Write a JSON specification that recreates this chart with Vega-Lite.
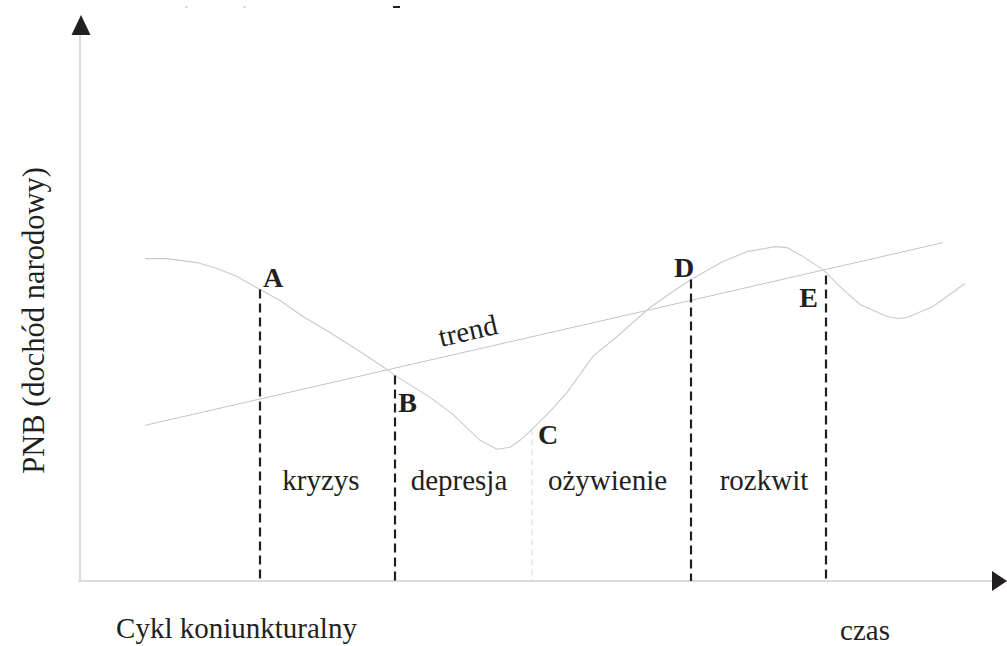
{
  "$schema": "https://vega.github.io/schema/vega-lite/v6.json",
  "width": 1007,
  "height": 646,
  "autosize": {"type": "fit", "contains": "padding"},
  "padding": 0,
  "background": "white",
  "config": {"view": {"stroke": null}},
  "datasets": {
    "curve": [
      {"t": 145, "v": 387}, {"t": 167, "v": 387}, {"t": 197, "v": 383}, {"t": 217, "v": 377},
      {"t": 237, "v": 369}, {"t": 260, "v": 356}, {"t": 280, "v": 345}, {"t": 303, "v": 329},
      {"t": 330, "v": 313}, {"t": 363, "v": 292}, {"t": 387, "v": 276}, {"t": 395, "v": 270},
      {"t": 430, "v": 248}, {"t": 453, "v": 231}, {"t": 480, "v": 205}, {"t": 497, "v": 196},
      {"t": 510, "v": 198}, {"t": 520, "v": 205}, {"t": 532, "v": 216}, {"t": 550, "v": 234},
      {"t": 567, "v": 253}, {"t": 593, "v": 289}, {"t": 617, "v": 309}, {"t": 650, "v": 338},
      {"t": 673, "v": 354}, {"t": 691, "v": 366}, {"t": 723, "v": 384}, {"t": 747, "v": 394},
      {"t": 775, "v": 399}, {"t": 787, "v": 398}, {"t": 803, "v": 389}, {"t": 823, "v": 376},
      {"t": 840, "v": 359}, {"t": 860, "v": 341}, {"t": 887, "v": 329}, {"t": 898, "v": 327},
      {"t": 907, "v": 328}, {"t": 933, "v": 339}, {"t": 965, "v": 362}
    ],
    "trend": [{"t": 145, "v": 220}, {"t": 943, "v": 403}],
    "phases": [
      {"t": 260, "v": 356, "v0": 64},
      {"t": 395, "v": 270, "v0": 64},
      {"t": 691, "v": 366, "v0": 64},
      {"t": 826, "v": 370, "v0": 64}
    ],
    "phaseC": [{"t": 532, "v": 216, "v0": 64}],
    "axes": [
      {"t": 80, "t2": 80, "v": 64, "v2": 611},
      {"t": 78, "t2": 993, "v": 64, "v2": 64}
    ],
    "arrowUp": [{"t": 81, "v": 621}],
    "arrowRight": [{"t": 999.5, "v": 64}],
    "specksLight": [
      {"t": 185, "t2": 188, "v": 639},
      {"t": 243, "t2": 246, "v": 639}
    ],
    "specksDark": [{"t": 393, "t2": 400, "v": 639}],
    "points": [
      {"t": 273, "v": 359, "label": "A"},
      {"t": 407.5, "v": 233, "label": "B"},
      {"t": 548, "v": 201, "label": "C"},
      {"t": 684, "v": 369, "label": "D"},
      {"t": 808.5, "v": 339, "label": "E"}
    ],
    "phaseNames": [
      {"t": 321, "v": 155, "label": "kryzys"},
      {"t": 459, "v": 155, "label": "depresja"},
      {"t": 607.5, "v": 155, "label": "ożywienie"},
      {"t": 764, "v": 155, "label": "rozkwit"},
      {"t": 236.5, "v": 7, "label": "Cykl koniunkturalny"},
      {"t": 865, "v": 5, "label": "czas"}
    ],
    "trendLabel": [{"t": 468, "v": 314, "label": "trend"}],
    "yLabel": [{"t": 35, "v": 325, "label": "PNB (dochód narodowy)"}]
  },
  "layer": [
    {
      "data": {"name": "axes"},
      "mark": {"type": "rule", "color": "#dcdcdc", "strokeWidth": 2},
      "encoding": {
        "x": {"field": "t", "type": "quantitative", "scale": {"domain": [0, 1007], "nice": false, "zero": false}, "axis": null},
        "x2": {"field": "t2"},
        "y": {"field": "v", "type": "quantitative", "scale": {"domain": [0, 646], "nice": false, "zero": false}, "axis": null},
        "y2": {"field": "v2"}
      }
    },
    {
      "data": {"name": "trend"},
      "mark": {"type": "line", "color": "#c4c4c4", "strokeWidth": 1},
      "encoding": {
        "x": {"field": "t", "type": "quantitative"},
        "y": {"field": "v", "type": "quantitative"}
      }
    },
    {
      "data": {"name": "curve"},
      "mark": {"type": "line", "color": "#cacaca", "strokeWidth": 1.1},
      "encoding": {
        "x": {"field": "t", "type": "quantitative"},
        "y": {"field": "v", "type": "quantitative"}
      }
    },
    {
      "data": {"name": "phaseC"},
      "mark": {"type": "rule", "color": "#d6d6d6", "strokeWidth": 1, "strokeDash": [6, 4]},
      "encoding": {
        "x": {"field": "t", "type": "quantitative"},
        "y": {"field": "v", "type": "quantitative"},
        "y2": {"field": "v0"}
      }
    },
    {
      "data": {"name": "phases"},
      "mark": {"type": "rule", "color": "#231f20", "strokeWidth": 2.2, "strokeDash": [9, 5]},
      "encoding": {
        "x": {"field": "t", "type": "quantitative"},
        "y": {"field": "v", "type": "quantitative"},
        "y2": {"field": "v0"}
      }
    },
    {
      "data": {"name": "specksLight"},
      "mark": {"type": "rule", "color": "#bbbbbb", "strokeWidth": 1},
      "encoding": {
        "x": {"field": "t", "type": "quantitative"},
        "x2": {"field": "t2"},
        "y": {"field": "v", "type": "quantitative"}
      }
    },
    {
      "data": {"name": "specksDark"},
      "mark": {"type": "rule", "color": "#231f20", "strokeWidth": 2},
      "encoding": {
        "x": {"field": "t", "type": "quantitative"},
        "x2": {"field": "t2"},
        "y": {"field": "v", "type": "quantitative"}
      }
    },
    {
      "data": {"name": "arrowUp"},
      "mark": {"type": "point", "shape": "M0,-1L0.95,1L-0.95,1Z", "size": 400, "filled": true, "color": "#231f20", "opacity": 1},
      "encoding": {
        "x": {"field": "t", "type": "quantitative"},
        "y": {"field": "v", "type": "quantitative"}
      }
    },
    {
      "data": {"name": "arrowRight"},
      "mark": {"type": "point", "shape": "M-0.75,-1L0.75,0L-0.75,1Z", "size": 400, "filled": true, "color": "#231f20", "opacity": 1},
      "encoding": {
        "x": {"field": "t", "type": "quantitative"},
        "y": {"field": "v", "type": "quantitative"}
      }
    },
    {
      "data": {"name": "points"},
      "mark": {"type": "text", "font": "Liberation Serif", "fontSize": 28, "fontWeight": "bold", "color": "#231f20", "align": "center", "baseline": "alphabetic"},
      "encoding": {
        "x": {"field": "t", "type": "quantitative"},
        "y": {"field": "v", "type": "quantitative"},
        "text": {"field": "label"}
      }
    },
    {
      "data": {"name": "phaseNames"},
      "mark": {"type": "text", "font": "Liberation Serif", "fontSize": 29, "color": "#231f20", "align": "center", "baseline": "alphabetic"},
      "encoding": {
        "x": {"field": "t", "type": "quantitative"},
        "y": {"field": "v", "type": "quantitative"},
        "text": {"field": "label"}
      }
    },
    {
      "data": {"name": "trendLabel"},
      "mark": {"type": "text", "font": "Liberation Serif", "fontSize": 29, "color": "#231f20", "align": "center", "baseline": "middle", "angle": -13},
      "encoding": {
        "x": {"field": "t", "type": "quantitative"},
        "y": {"field": "v", "type": "quantitative"},
        "text": {"field": "label"}
      }
    },
    {
      "data": {"name": "yLabel"},
      "mark": {"type": "text", "font": "Liberation Serif", "fontSize": 30.5, "color": "#231f20", "align": "center", "baseline": "middle", "angle": -90},
      "encoding": {
        "x": {"field": "t", "type": "quantitative"},
        "y": {"field": "v", "type": "quantitative"},
        "text": {"field": "label"}
      }
    }
  ]
}
